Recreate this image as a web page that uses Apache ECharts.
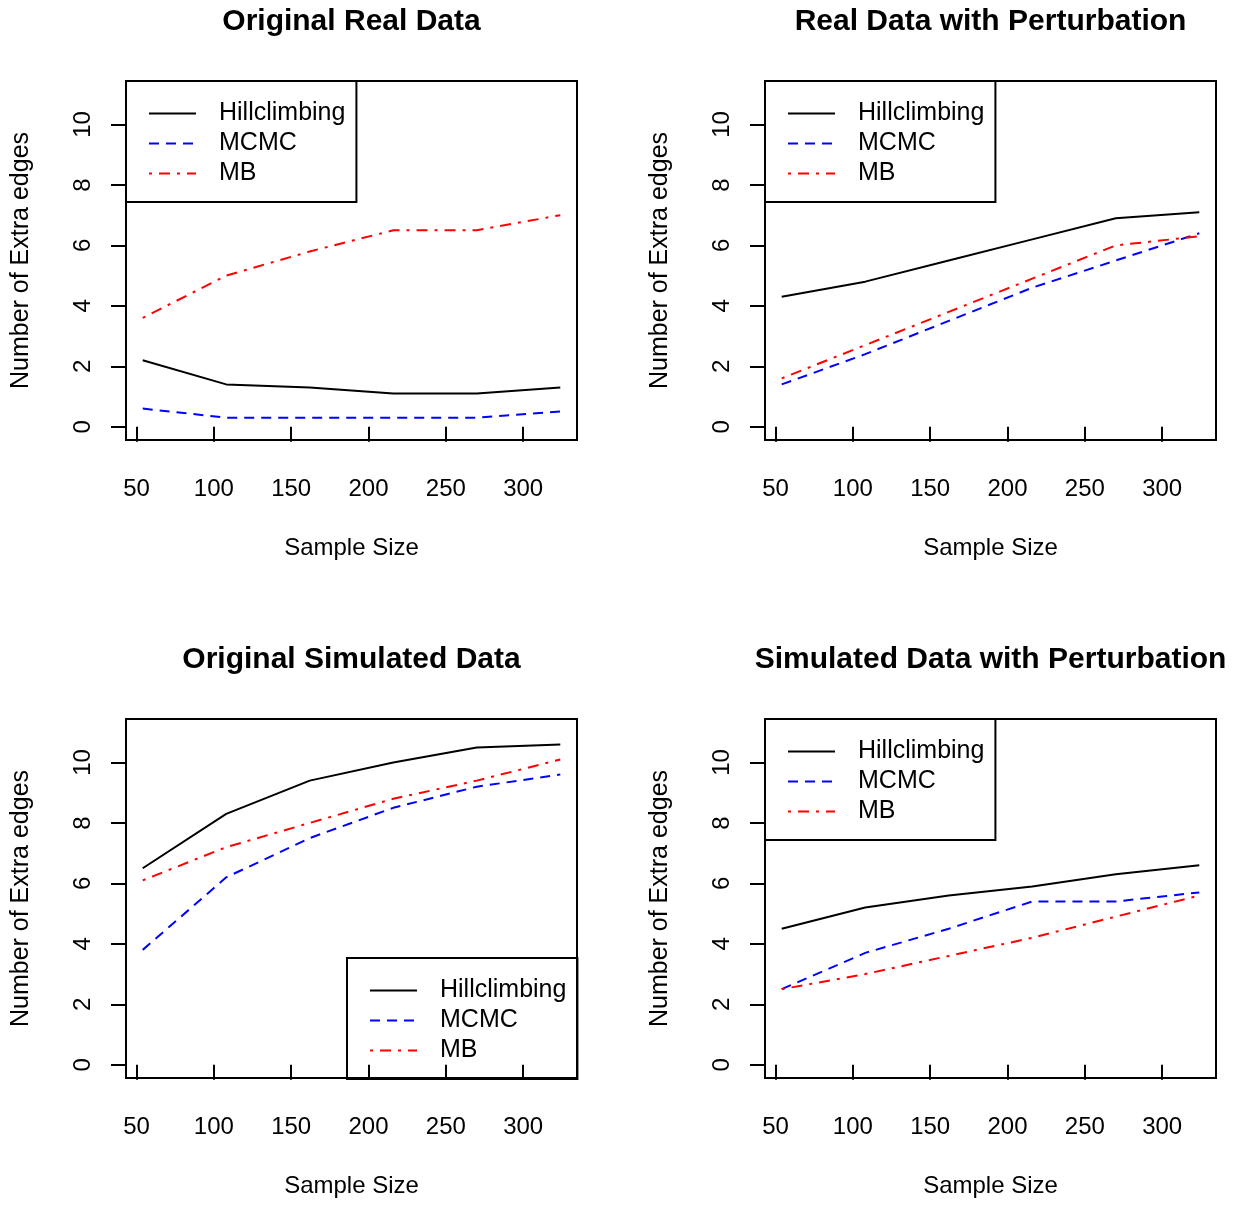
<!DOCTYPE html>
<html>
<head>
<meta charset="utf-8">
<script src="https://cdn.jsdelivr.net/npm/echarts@6/dist/echarts.min.js"></script>
<style>
html, body { margin: 0; padding: 0; background: #fff; }
#main { width: 1236px; height: 1205px; }
</style>
</head>
<body>
<div id="main"></div>
<script>
// data
var sampleSizes = [54, 108, 162, 216, 270, 324];
var xTicks = [50, 100, 150, 200, 250, 300];
var yTicks = [0, 2, 4, 6, 8, 10];
var methods = ['Hillclimbing', 'MCMC', 'MB'];
var panelTitles = ['Original Real Data', 'Real Data with Perturbation',
                   'Original Simulated Data', 'Simulated Data with Perturbation'];

var realHill = [2.2, 1.4, 1.3, 1.1, 1.1, 1.3];
var realMcmc = [0.6, 0.3, 0.3, 0.3, 0.3, 0.5];
var realMb = [3.6, 5.0, 5.8, 6.5, 6.5, 7.0];

var realPertHill = [4.3, 4.8, 5.5, 6.2, 6.9, 7.1];
var realPertMcmc = [1.4, 2.4, 3.5, 4.6, 5.5, 6.4];
var realPertMb = [1.6, 2.7, 3.8, 4.9, 6.0, 6.3];

var simHill = [6.5, 8.3, 9.4, 10.0, 10.5, 10.6];
var simMcmc = [3.8, 6.2, 7.5, 8.5, 9.2, 9.6];
var simMb = [6.1, 7.2, 8.0, 8.8, 9.4, 10.1];

var simPertHill = [4.5, 5.2, 5.6, 5.9, 6.3, 6.6];
var simPertMcmc = [2.5, 3.7, 4.5, 5.4, 5.4, 5.7];
var simPertMb = [2.5, 3.0, 3.6, 4.2, 4.9, 5.6];

var panelData = [
    [realHill, realMcmc, realMb],
    [realPertHill, realPertMcmc, realPertMb],
    [simHill, simMcmc, simMb],
    [simPertHill, simPertMcmc, simPertMb]
];

var font = '"Liberation Sans", Arial, Helvetica, sans-serif';
var lineStyles = [
    {color: '#000000', type: 'solid'},
    {color: '#0000ff', type: [10, 7]},
    {color: '#ff0000', type: [3, 7, 11, 7]}
];

// panel boxes
var boxes = [
    {left: 126, top: 81},
    {left: 765, top: 81},
    {left: 126, top: 719},
    {left: 765, top: 719}
];
var boxW = 451, boxH = 359;
// legend placement (top-left, except bottom-right for panel 3)
var legendPos = [
    {left: 126, top: 81},
    {left: 765, top: 81},
    {left: 347, top: 958},
    {left: 765, top: 719}
];

var grids = [], xAxes = [], yAxes = [], titles = [], legends = [], series = [];

boxes.forEach(function (b, i) {
    grids.push({
        left: b.left, top: b.top, width: boxW, height: boxH,
        show: true, borderColor: '#000', borderWidth: 2, backgroundColor: 'transparent'
    });
    titles.push({
        text: panelTitles[i],
        left: b.left + boxW / 2,
        top: b.top - 74,
        padding: 0,
        textAlign: 'center',
        textStyle: {fontFamily: font, fontSize: 30, fontWeight: 'bold', color: '#000'}
    });
    xAxes.push({
        gridIndex: i, type: 'value', min: 43.2, max: 334.8,
        name: 'Sample Size', nameLocation: 'middle', nameGap: 96,
        nameTextStyle: {fontFamily: font, fontSize: 24, color: '#000'},
        axisLine: {show: false},
        splitLine: {show: false},
        axisTick: {show: true, inside: false, length: 15, customValues: xTicks,
                   lineStyle: {color: '#000', width: 2}},
        axisLabel: {customValues: xTicks, margin: 37, fontFamily: font, fontSize: 24, color: '#000'}
    });
    yAxes.push({
        gridIndex: i, type: 'value', min: -0.44, max: 11.44,
        name: 'Number of Extra edges', nameLocation: 'middle', nameGap: 92,
        nameTextStyle: {fontFamily: font, fontSize: 25, color: '#000'},
        axisLine: {show: false},
        splitLine: {show: false},
        axisTick: {show: true, inside: false, length: 15, customValues: yTicks,
                   lineStyle: {color: '#000', width: 2}},
        axisLabel: {customValues: yTicks, rotate: 90, margin: 31, fontFamily: font, fontSize: 24, color: '#000'}
    });
    legends.push({
        data: methods,
        orient: 'vertical',
        left: legendPos[i].left, top: legendPos[i].top,
        borderColor: '#000', borderWidth: 2,
        padding: [20, 11, 16, 22],
        itemWidth: 47, itemHeight: 14, itemGap: 5,
        itemStyle: {opacity: 0},
        selectedMode: false,
        textStyle: {fontFamily: font, fontSize: 25, lineHeight: 25, color: '#000', padding: [0, 0, 0, 18]}
    });
    methods.forEach(function (m, k) {
        series.push({
            name: m, type: 'line',
            xAxisIndex: i, yAxisIndex: i,
            symbol: 'none', showSymbol: false,
            animation: false,
            lineStyle: {color: lineStyles[k].color, type: lineStyles[k].type, width: 2},
            itemStyle: {color: lineStyles[k].color},
            data: sampleSizes.map(function (x, j) { return [x, panelData[i][k][j]]; })
        });
    });
});

var myChart = echarts.init(document.getElementById('main'));
var option = {
    backgroundColor: '#fff',
    animation: false,
    title: titles,
    legend: legends,
    grid: grids,
    xAxis: xAxes,
    yAxis: yAxes,
    series: series
};
myChart.setOption(option);
</script>
</body>
</html>
